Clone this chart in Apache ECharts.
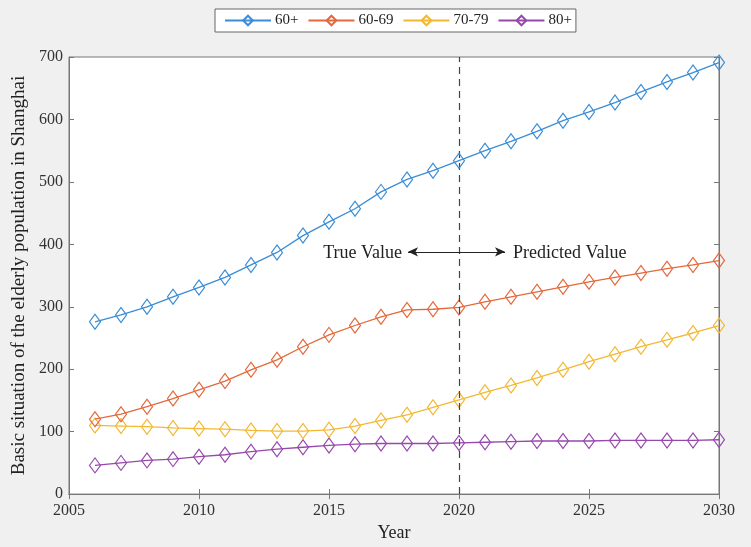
<!DOCTYPE html>
<html><head><meta charset="utf-8">
<script src="https://cdn.jsdelivr.net/npm/echarts@6/dist/echarts.min.js"></script>
<style>html,body{margin:0;padding:0;background:#f0f0f0}#c{width:751px;height:547px}</style>
</head><body><div id="c"></div>
<script>
const years = [2006,2007,2008,2009,2010,2011,2012,2013,2014,2015,2016,2017,2018,2019,2020,2021,2022,2023,2024,2025,2026,2027,2028,2029,2030];
const s60plus = [276,287,300,316,331,347,367,387,414,436,457,484,504,518,534,550,565,581,598,612,627,644,660,675,691];
const s6069 = [120,128,140,153,167,181,199,215,236,255,270,284,295,296,299,308,316,324,332,340,347,354,361,367,374];
const s7079 = [110,109,108,106,105,104,102,101,101,103,109,118,127,139,151,163,174,186,199,212,224,236,247,258,270];
const s80plus = [46,50,54,56,60,63,68,72,75,78,80,81,81,81,82,83,84,85,85,85,86,86,86,86,87];
const seriesNames = ['60+','60-69','70-79','80+'];
const splitYear = 2020;
const arrowY = 388;
const arrowFrom = 2018.04, arrowTo = 2021.77;
const trueLabel = 'True Value', predLabel = 'Predicted Value';

const colors = ['#3a8dd6','#e4683b','#f3b833','#9748ad'];
const font = 'Liberation Serif, DejaVu Serif, serif';
const txt = '#333';
const allData = [s60plus, s6069, s7079, s80plus];

const series = allData.map((arr, i) => ({
  name: seriesNames[i],
  type: 'line',
  data: years.map((y, k) => [y, arr[k]]),
  symbol: 'diamond',
  symbolSize: [11, 15],
  showSymbol: true,
  itemStyle: { color: 'rgba(255,255,255,0)', borderColor: colors[i], borderWidth: 1.2 },
  lineStyle: { color: colors[i], width: 1.3 },
  emphasis: { disabled: true },
  z: 5 - i
}));

series[0].markLine = {
  silent: true,
  symbol: 'none',
  lineStyle: { color: '#444', type: [7, 5], width: 1.2 },
  label: { show: false },
  data: [{ xAxis: splitYear }]
};
series.push({
  type: 'line', data: [], silent: true,
  markLine: {
    silent: true,
    symbol: ['arrow', 'arrow'],
    symbolSize: [7, 10],
    lineStyle: { color: '#222', type: 'solid', width: 1 },
    label: { show: false },
    data: [[{ coord: [arrowFrom, arrowY] }, { coord: [arrowTo, arrowY] }]]
  },
  markPoint: {
    silent: true,
    symbol: 'circle', symbolSize: 0,
    label: { show: true, color: '#222', fontFamily: font, fontSize: 18, position: 'inside' },
    data: [
      { coord: [arrowFrom, arrowY], label: { formatter: trueLabel, align: 'right', offset: [-6, 1] } },
      { coord: [arrowTo, arrowY], label: { formatter: predLabel, align: 'left', offset: [8, 1] } }
    ]
  }
});

const chart = echarts.init(document.getElementById('c'));
chart.setOption({
  backgroundColor: '#f0f0f0',
  animation: false,
  legend: {
    data: seriesNames,
    left: 215, top: 9,
    backgroundColor: '#fff',
    borderColor: '#666', borderWidth: 1,
    padding: [4, 4, 4, 9],
    itemWidth: 46, itemHeight: 12, itemGap: 9,
    textStyle: { fontFamily: font, fontSize: 15, color: '#222', padding: [0, 0, 0, -1] }
  },
  grid: { left: 69, right: 32, top: 57, bottom: 46, show: true, backgroundColor: '#fff', borderColor: '#777', borderWidth: 1 },
  xAxis: [{
    type: 'value', min: 2005, max: 2030, interval: 5,
    name: 'Year', nameLocation: 'middle', nameGap: 28,
    nameTextStyle: { fontFamily: font, fontSize: 18, color: '#222' },
    axisLine: { lineStyle: { color: '#777' } },
    axisTick: { inside: true, length: 5, lineStyle: { color: '#777' } },
    axisLabel: { fontFamily: font, fontSize: 16, color: txt, margin: 9, formatter: v => String(v) },
    splitLine: { show: false }
  }, {
    type: 'value', min: 2005, max: 2030, interval: 5, position: 'top',
    axisLine: { show: true, lineStyle: { color: '#777' } },
    axisTick: { inside: true, length: 5, lineStyle: { color: '#777' } },
    axisLabel: { show: false }, splitLine: { show: false }
  }],
  yAxis: [{
    type: 'value', min: 0, max: 700, interval: 100,
    name: 'Basic situation of the elderly population in Shanghai', nameLocation: 'middle', nameGap: 31,
    nameTextStyle: { fontFamily: font, fontSize: 19, color: '#222' },
    axisLine: { show: true, lineStyle: { color: '#777' } },
    axisTick: { show: true, inside: true, length: 5, lineStyle: { color: '#777' } },
    axisLabel: { fontFamily: font, fontSize: 16, color: txt, margin: 6 },
    splitLine: { show: false }
  }, {
    type: 'value', min: 0, max: 700, interval: 100, position: 'right',
    axisLine: { show: true, lineStyle: { color: '#777' } },
    axisTick: { show: true, inside: true, length: 5, lineStyle: { color: '#777' } },
    axisLabel: { show: false }, splitLine: { show: false }
  }],
  series: series
});
</script></body></html>
